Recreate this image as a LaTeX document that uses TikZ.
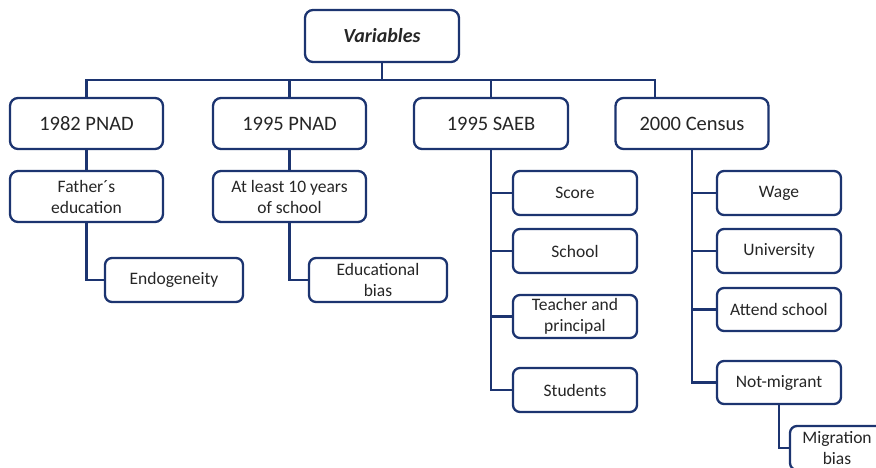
\documentclass[tikz,border=0pt]{standalone}
\usepackage{fontspec}
\setmainfont{Carlito}
\definecolor{navy}{RGB}{28,52,112}
\tikzset{
  box/.style={draw=navy, line width=2.3pt, rounded corners=8pt, fill=white,
    inner sep=0pt, align=center, text=black!85},
  topbox/.style={box, minimum width=154pt, minimum height=52pt,
    font=\fontsize{20}{24}\selectfont\bfseries\itshape},
  srcbox/.style={box, minimum width=153pt, minimum height=51pt,
    font=\fontsize{20.5}{24}\selectfont},
  varbox/.style={box, minimum width=153pt, minimum height=51pt,
    font=\fontsize{17.5}{21}\selectfont},
  leafbox/.style={box, rounded corners=7pt, minimum width=124pt, minimum height=44pt,
    font=\fontsize{17.5}{21}\selectfont},
  link/.style={draw=navy, line width=2.3pt}
}
\begin{document}
\begin{tikzpicture}[x=1pt, y=-1pt]
  \useasboundingbox (0,0) rectangle (876,468);
  \clip (0,0) rectangle (876,468);
  % top
  \node[topbox] (vars) at (382,36) {Variables};
  % sources
  \node[srcbox] (pnad82) at (86.5,123.5) {1982 PNAD};
  \node[srcbox] (pnad95) at (289.5,123.5) {1995 PNAD};
  \node[srcbox, minimum width=154pt] (saeb) at (491,123.5) {1995 SAEB};
  \node[srcbox] (census) at (692,123.5) {2000 Census};
  % PNAD variables
  \node[varbox] (father) at (86.5,196.5) {Father´s\\education};
  \node[varbox] (atleast) at (289.5,196.5) {At least 10 years\\of school};
  \node[leafbox, minimum width=138pt] (endog) at (174,280) {Endogeneity};
  \node[leafbox, minimum width=138pt] (edbias) at (378,280) {Educational\\bias};
  % SAEB variables
  \node[leafbox] (score) at (575,193) {Score};
  \node[leafbox] (school) at (575,251) {School};
  \node[leafbox, minimum height=43pt] (teacher) at (575,316.5) {Teacher and\\principal};
  \node[leafbox] (students) at (575,390) {Students};
  % Census variables
  \node[leafbox] (wage) at (779,193) {Wage};
  \node[leafbox] (univ) at (779,251) {University};
  \node[leafbox, minimum height=43pt] (attend) at (779,309.5) {Attend school};
  \node[leafbox, minimum height=43pt] (notmig) at (779,382.5) {Not-migrant};
  \node[leafbox, minimum width=94pt] (migbias) at (837,448) {Migration\\bias};
  % bus
  \coordinate (busend) at (655,80);
  \draw[link] (pnad82.north) |- (busend) -- (busend |- census.north);
  \draw[link] (vars.south) -- (vars.south |- busend);
  \draw[link] (pnad95.north) -- (pnad95.north |- busend);
  \draw[link] (saeb.north) -- (saeb.north |- busend);
  % branches
  \draw[link] (pnad82.south) -- (father.north);
  \draw[link] (pnad95.south) -- (atleast.north);
  \draw[link] (father.south) |- (endog.west);
  \draw[link] (atleast.south) |- (edbias.west);
  \draw[link] (saeb.south) |- (students.west);
  \foreach \leaf in {score, school, teacher}
    \draw[link] (saeb.south |- \leaf.west) -- (\leaf.west);
  \draw[link] (census.south) |- (notmig.west);
  \foreach \leaf in {wage, univ, attend}
    \draw[link] (census.south |- \leaf.west) -- (\leaf.west);
  \draw[link] (notmig.south) |- (migbias.west);
\end{tikzpicture}
\end{document}
